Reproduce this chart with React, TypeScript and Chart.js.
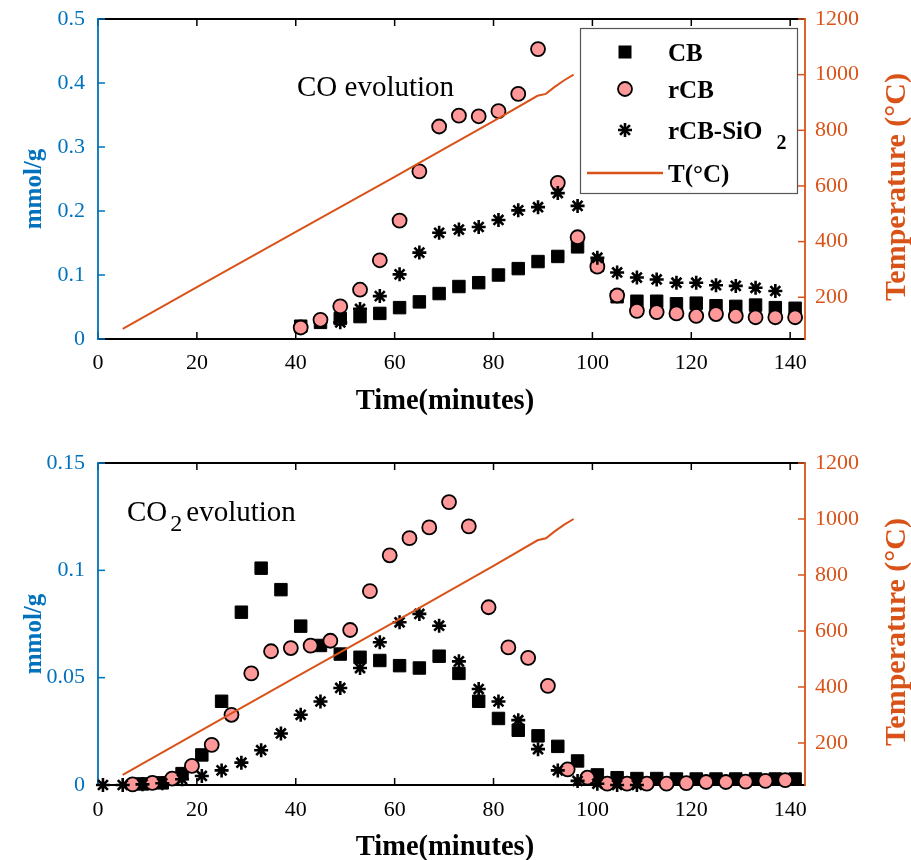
import React, { useEffect, useRef } from "react";
import { Chart, registerables } from "chart.js";

Chart.register(...registerables);

const BLUE = "#0072BD";
const ORANGE = "#D95319";
const PINK = "#FF9999";
const SERIF = '"Liberation Serif", "Times New Roman", serif';

// ---- tick values / labels ----
const timeTicks = [0, 20, 40, 60, 80, 100, 120, 140];
const timeTickLabels = ["0", "20", "40", "60", "80", "100", "120", "140"];
const tempTicks = [200, 400, 600, 800, 1000, 1200];
const tempTickLabels = ["200", "400", "600", "800", "1000", "1200"];
const coTicks = [0, 0.1, 0.2, 0.3, 0.4, 0.5];
const coTickLabels = ["0", "0.1", "0.2", "0.3", "0.4", "0.5"];
const co2Ticks = [0, 0.05, 0.1, 0.15];
const co2TickLabels = ["0", "0.05", "0.1", "0.15"];

// ---- temperature profile (°C) ----
const tempTime = [5, 20, 40, 60, 70, 80, 88.9, 90.6, 92.3, 94.3, 96.2];
const tempValue = [86, 236, 435, 633, 733, 833, 924, 931, 955, 980, 1000];

// ---- CO evolution (mmol/g) ----
const coTime = [41, 45, 49, 53, 57, 61, 65, 69, 73, 77, 81, 85, 89, 93, 97, 101, 105, 109, 113, 117, 121, 125, 129, 133, 137, 141];
const coCB = [0.020, 0.026, 0.032, 0.035, 0.040, 0.049, 0.058, 0.071, 0.082, 0.088, 0.100, 0.110, 0.121, 0.129, 0.144, 0.115, 0.066, 0.059, 0.059, 0.055, 0.056, 0.052, 0.051, 0.053, 0.049, 0.048];
const coRCB = [0.018, 0.030, 0.051, 0.077, 0.123, 0.185, 0.262, 0.332, 0.349, 0.348, 0.356, 0.383, 0.453, 0.244, 0.159, 0.113, 0.068, 0.044, 0.042, 0.040, 0.036, 0.039, 0.036, 0.034, 0.034, 0.034];
const coTimeSiO2 = [49, 53, 57, 61, 65, 69, 73, 77, 81, 85, 89, 93, 97, 101, 105, 109, 113, 117, 121, 125, 129, 133, 137];
const coSiO2 = [0.026, 0.047, 0.067, 0.101, 0.135, 0.166, 0.171, 0.175, 0.186, 0.201, 0.206, 0.228, 0.208, 0.127, 0.104, 0.096, 0.093, 0.088, 0.088, 0.084, 0.083, 0.080, 0.075];

// ---- CO2 evolution (mmol/g) ----
const co2TimeCB = [9, 13, 17, 21, 25, 29, 33, 37, 41, 45, 49, 53, 57, 61, 65, 69, 73, 77, 81, 85, 89, 93, 97, 101, 105, 109, 113, 117, 121, 125, 129, 133, 137, 141];
const co2CB = [0.0005, 0.001, 0.0053, 0.014, 0.039, 0.0805, 0.101, 0.091, 0.074, 0.065, 0.061, 0.0595, 0.058, 0.0556, 0.0545, 0.060, 0.052, 0.039, 0.031, 0.0255, 0.0229, 0.018, 0.0112, 0.0047, 0.0034, 0.003, 0.003, 0.0028, 0.0028, 0.0028, 0.0028, 0.0028, 0.0028, 0.0028];
const co2TimeRCB = [7, 11, 15, 19, 23, 27, 31, 35, 39, 43, 47, 51, 55, 59, 63, 67, 71, 75, 79, 83, 87, 91, 95, 99, 103, 107, 111, 115, 119, 123, 127, 131, 135, 139];
const co2RCB = [0.0003, 0.001, 0.003, 0.0089, 0.0187, 0.0327, 0.052, 0.0623, 0.0638, 0.0649, 0.0672, 0.0722, 0.0903, 0.107, 0.115, 0.120, 0.1318, 0.1205, 0.0828, 0.0641, 0.0592, 0.0462, 0.0073, 0.0034, 0.0006, 0.0006, 0.0006, 0.0006, 0.0009, 0.0014, 0.0014, 0.0016, 0.0019, 0.0023];
const co2TimeSiO2 = [1, 5, 9, 13, 17, 21, 25, 29, 33, 37, 41, 45, 49, 53, 57, 61, 65, 69, 73, 77, 81, 85, 89, 93, 97, 101, 105, 109];
const co2SiO2 = [0, 0, 0.0003, 0.0008, 0.0027, 0.0042, 0.0068, 0.0104, 0.0162, 0.024, 0.0327, 0.0389, 0.0452, 0.0545, 0.0665, 0.0758, 0.0797, 0.0742, 0.0576, 0.0447, 0.0389, 0.0302, 0.0167, 0.0068, 0.0019, 0.0006, 0, 0];

const pts = (xs: number[], ys: number[]) => xs.map((x, i) => ({ x, y: ys[i] }));

type Panel = {
  pageTop: number;
  height: number;
  areaTop: number; // page coords
  areaBottom: number;
  yMax: number;
  yTicks: number[];
  yLabels: string[];
  cb: { x: number; y: number }[];
  rcb: { x: number; y: number }[];
  sio2: { x: number; y: number }[];
  annot: { x: number; baseline: number; parts: { t: string; sub?: boolean; gapAfter?: number }[] };
  legend: boolean;
  tickPad: number;
};

function line(ctx: CanvasRenderingContext2D, x1: number, y1: number, x2: number, y2: number) {
  ctx.beginPath();
  ctx.moveTo(x1, y1);
  ctx.lineTo(x2, y2);
  ctx.stroke();
}

function rotText(ctx: CanvasRenderingContext2D, text: string, x: number, y: number, font: string, color: string, rot: number) {
  ctx.save();
  ctx.translate(x, y);
  ctx.rotate(rot);
  ctx.font = font;
  ctx.fillStyle = color;
  ctx.textAlign = "center";
  ctx.textBaseline = "middle";
  ctx.fillText(text, 0, 0);
  ctx.restore();
}

function asterisk(ctx: CanvasRenderingContext2D, x: number, y: number, r: number) {
  for (let k = 0; k < 4; k++) {
    const a = (k * Math.PI) / 4;
    line(ctx, x - r * Math.cos(a), y - r * Math.sin(a), x + r * Math.cos(a), y + r * Math.sin(a));
  }
}

const noPad = (s: any) => {
  s.paddingTop = 0;
  s.paddingBottom = 0;
  s.paddingLeft = 0;
  s.paddingRight = 0;
};

function makeDecor(p: Panel) {
  const off = p.pageTop;
  return {
    id: "decor",
    beforeDatasetsDraw(chart: any) {
      const { ctx, chartArea: a } = chart;
      const xs = chart.scales.x;
      const ys = chart.scales.y;
      const y2 = chart.scales.y2;
      ctx.save();
      ctx.lineCap = "butt";
      ctx.strokeStyle = "#000";
      ctx.lineWidth = 2;
      line(ctx, a.left, a.top, a.right, a.top);
      line(ctx, a.left, a.bottom, a.right, a.bottom);
      ctx.lineWidth = 1.5;
      for (const t of timeTicks) {
        const px = xs.getPixelForValue(t);
        line(ctx, px, a.bottom, px, a.bottom - 7);
        line(ctx, px, a.top, px, a.top + 7);
      }
      ctx.strokeStyle = BLUE;
      ctx.lineWidth = 1.8;
      line(ctx, a.left, a.top - 1, a.left, a.bottom + 1);
      ctx.lineWidth = 1.5;
      for (const v of p.yTicks) {
        const py = ys.getPixelForValue(v);
        line(ctx, a.left, py, a.left + 7, py);
      }
      ctx.strokeStyle = ORANGE;
      ctx.lineWidth = 1.8;
      line(ctx, a.right, a.top - 1, a.right, a.bottom + 1);
      ctx.lineWidth = 1.5;
      for (const v of tempTicks) {
        const py = y2.getPixelForValue(v);
        line(ctx, a.right, py, a.right - 7, py);
      }
      ctx.restore();
    },
    afterDraw(chart: any) {
      const { ctx, chartArea: a } = chart;
      ctx.save();
      // axis titles
      rotText(ctx, "Time(minutes)", 445, a.bottom + 63, `bold 28.5px ${SERIF}`, "#000", 0);
      const mid = (a.top + a.bottom) / 2;
      rotText(ctx, "mmol/g", 35, mid + 10, `bold 25px ${SERIF}`, BLUE, -Math.PI / 2);
      rotText(ctx, "Temperature (°C)", 897, mid + 8, `bold 30px ${SERIF}`, ORANGE, -Math.PI / 2);

      // annotation
      let ax = p.annot.x;
      const base = p.annot.baseline - off;
      ctx.fillStyle = "#000";
      ctx.textBaseline = "alphabetic";
      ctx.textAlign = "left";
      for (const part of p.annot.parts) {
        ctx.font = part.sub ? `24px ${SERIF}` : `29px ${SERIF}`;
        ctx.fillText(part.t, ax, part.sub ? base + 10 : base);
        ax += ctx.measureText(part.t).width + (part.gapAfter || 0);
      }

      if (p.legend) {
        const L = 580.5, T = 28.5 - off, W = 217, H = 165;
        ctx.fillStyle = "#fff";
        ctx.fillRect(L, T, W, H);
        ctx.strokeStyle = "#555";
        ctx.lineWidth = 1.2;
        ctx.strokeRect(L, T, W, H);
        const mx = 625;
        // CB
        ctx.fillStyle = "#000";
        ctx.fillRect(mx - 6.5, 52 - off - 6.5, 13, 13);
        // rCB
        ctx.beginPath();
        ctx.arc(mx, 89 - off, 7, 0, Math.PI * 2);
        ctx.fillStyle = PINK;
        ctx.fill();
        ctx.strokeStyle = "#000";
        ctx.lineWidth = 1.8;
        ctx.stroke();
        // rCB-SiO2
        ctx.lineWidth = 2.6;
        asterisk(ctx, mx, 130 - off, 7);
        // T
        ctx.strokeStyle = ORANGE;
        ctx.lineWidth = 2.5;
        line(ctx, 587, 173 - off, 663, 173 - off);

        ctx.fillStyle = "#000";
        ctx.font = `bold 25px ${SERIF}`;
        ctx.textAlign = "left";
        ctx.textBaseline = "alphabetic";
        ctx.fillText("CB", 668, 60.5 - off);
        ctx.fillText("rCB", 668, 97.5 - off);
        ctx.fillText("rCB-SiO", 668, 138.5 - off);
        const w = ctx.measureText("rCB-SiO").width;
        ctx.font = `bold 20px ${SERIF}`;
        ctx.fillText("2", 668 + w + 14, 149 - off);
        ctx.font = `bold 25px ${SERIF}`;
        ctx.fillText("T(°C)", 668, 181.5 - off);
      }
      ctx.restore();
    },
  };
}

function PanelChart({ p }: { p: Panel }) {
  const ref = useRef<HTMLCanvasElement>(null);
  useEffect(() => {
    const canvas = ref.current!;
    const tickFont = { family: SERIF, size: 22 };
    const chart = new Chart(canvas, {
      type: "scatter",
      data: {
        datasets: [
          {
            label: "T(°C)",
            data: pts(tempTime, tempValue),
            showLine: true,
            pointRadius: 0,
            borderColor: ORANGE,
            borderWidth: 2,
            yAxisID: "y2",
            order: 0,
            clip: false,
          } as any,
          {
            label: "rCB-SiO2",
            data: p.sio2,
            pointStyle: "star",
            pointRadius: 7,
            borderColor: "#000",
            backgroundColor: "#000",
            borderWidth: 2.6,
            yAxisID: "y",
            order: 1,
            clip: false,
          },
          {
            label: "rCB",
            data: p.rcb,
            pointStyle: "circle",
            pointRadius: 7,
            borderColor: "#000",
            backgroundColor: PINK,
            borderWidth: 1.8,
            yAxisID: "y",
            order: 2,
            clip: false,
          },
          {
            label: "CB",
            data: p.cb,
            pointStyle: "rect",
            pointRadius: 8.8,
            borderColor: "#000",
            backgroundColor: "#000",
            borderWidth: 1,
            yAxisID: "y",
            order: 3,
            clip: false,
          },
        ],
      },
      options: {
        responsive: false,
        animation: false,
        events: [],
        layout: { padding: { top: p.areaTop - p.pageTop, left: 0, right: 0, bottom: 0 } },
        plugins: { legend: { display: false }, tooltip: { enabled: false } },
        scales: {
          x: {
            type: "linear",
            position: "bottom",
            min: 0,
            max: 143,
            grid: { display: false, drawTicks: false },
            border: { display: false },
            ticks: {
              font: tickFont,
              color: "#000",
              padding: p.tickPad,
              maxRotation: 0,
              autoSkip: false,
              callback: (_v: any, i: number) => timeTickLabels[i],
            },
            afterBuildTicks: (s: any) => {
              s.ticks = timeTicks.map((v) => ({ value: v }));
            },
            afterFit: (s: any) => {
              s.height = p.pageTop + p.height - p.areaBottom;
              noPad(s);
            },
          },
          y: {
            type: "linear",
            position: "left",
            min: 0,
            max: p.yMax,
            grid: { display: false, drawTicks: false },
            border: { display: false },
            ticks: {
              font: tickFont,
              color: BLUE,
              padding: 13,
              autoSkip: false,
              callback: (_v: any, i: number) => p.yLabels[i],
            },
            afterBuildTicks: (s: any) => {
              s.ticks = p.yTicks.map((v) => ({ value: v }));
            },
            afterFit: (s: any) => {
              s.width = 98;
              noPad(s);
            },
          },
          y2: {
            type: "linear",
            position: "right",
            min: 50,
            max: 1200,
            grid: { display: false, drawTicks: false },
            border: { display: false },
            ticks: {
              font: tickFont,
              color: ORANGE,
              padding: 10,
              autoSkip: false,
              callback: (_v: any, i: number) => tempTickLabels[i],
            },
            afterBuildTicks: (s: any) => {
              s.ticks = tempTicks.map((v) => ({ value: v }));
            },
            afterFit: (s: any) => {
              s.width = 106;
              noPad(s);
            },
          },
        },
      } as any,
      plugins: [makeDecor(p)],
    });
    return () => chart.destroy();
  }, [p]);
  return (
    <canvas
      ref={ref}
      width={911}
      height={p.height}
      style={{ position: "absolute", left: 0, top: p.pageTop, width: 911, height: p.height, display: "block" }}
    />
  );
}

const topPanel: Panel = {
  pageTop: 0,
  height: 420,
  areaTop: 19,
  areaBottom: 339,
  yMax: 0.5,
  yTicks: coTicks,
  yLabels: coTickLabels,
  cb: pts(coTime, coCB),
  rcb: pts(coTime, coRCB),
  sio2: pts(coTimeSiO2, coSiO2),
  annot: { x: 297, baseline: 96, parts: [{ t: "CO evolution" }] },
  legend: true,
  tickPad: 11,
};

const bottomPanel: Panel = {
  pageTop: 420,
  height: 440,
  areaTop: 463,
  areaBottom: 785,
  yMax: 0.15,
  yTicks: co2Ticks,
  yLabels: co2TickLabels,
  cb: pts(co2TimeCB, co2CB),
  rcb: pts(co2TimeRCB, co2RCB),
  sio2: pts(co2TimeSiO2, co2SiO2),
  annot: { x: 127, baseline: 521, parts: [{ t: "CO", gapAfter: 3 }, { t: "2", sub: true, gapAfter: 4 }, { t: "evolution" }] },
  legend: false,
  tickPad: 12,
};

export default function App() {
  return (
    <div style={{ position: "absolute", left: 0, top: 0, width: 911, height: 860, background: "#fff" }}>
      <PanelChart p={topPanel} />
      <PanelChart p={bottomPanel} />
    </div>
  );
}
